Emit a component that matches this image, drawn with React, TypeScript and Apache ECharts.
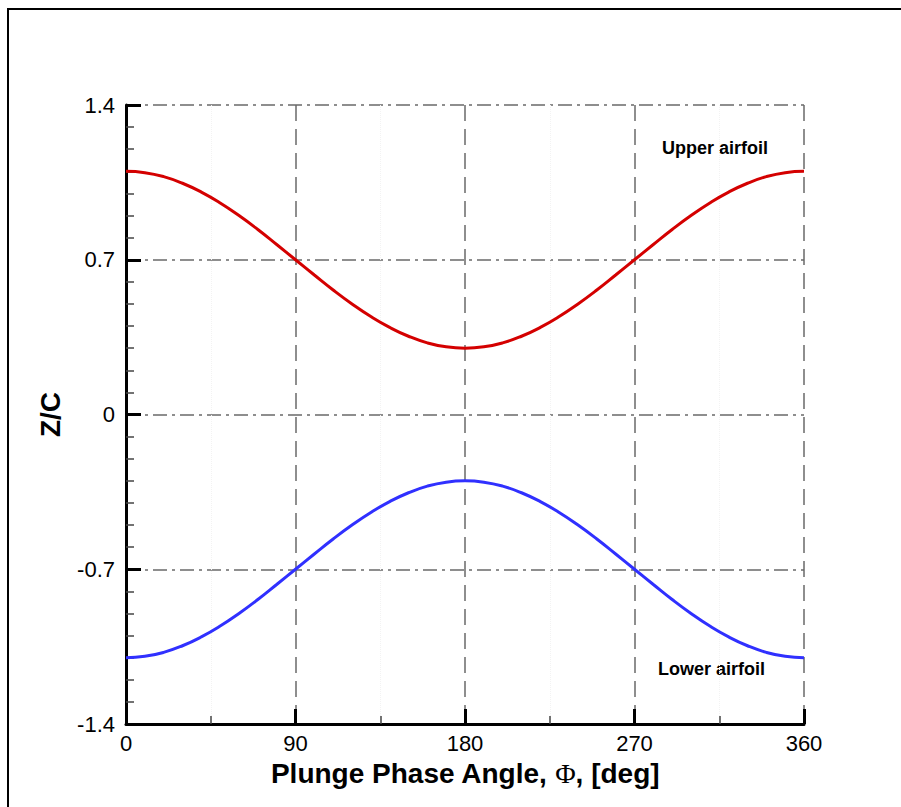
import React, { useEffect, useRef } from "react";
import * as echarts from "echarts";

// Plunge phase angle (deg)
const phase = [
  0, 10, 20, 30, 40, 50, 60, 70, 80, 90, 100, 110, 120, 130, 140, 150, 160, 170, 180,
  190, 200, 210, 220, 230, 240, 250, 260, 270, 280, 290, 300, 310, 320, 330, 340, 350, 360,
];

// Z/C of the upper airfoil
const upperZ = [
  1.1, 1.094, 1.076, 1.046, 1.006, 0.957, 0.9, 0.837, 0.769, 0.7, 0.631, 0.563, 0.5, 0.443,
  0.394, 0.354, 0.324, 0.306, 0.3, 0.306, 0.324, 0.354, 0.394, 0.443, 0.5, 0.563, 0.631,
  0.7, 0.769, 0.837, 0.9, 0.957, 1.006, 1.046, 1.076, 1.094, 1.1,
];

// Z/C of the lower airfoil
const lowerZ = [
  -1.1, -1.094, -1.076, -1.046, -1.006, -0.957, -0.9, -0.837, -0.769, -0.7, -0.631, -0.563,
  -0.5, -0.443, -0.394, -0.354, -0.324, -0.306, -0.3, -0.306, -0.324, -0.354, -0.394,
  -0.443, -0.5, -0.563, -0.631, -0.7, -0.769, -0.837, -0.9, -0.957, -1.006, -1.046, -1.076,
  -1.094, -1.1,
];

const xTicks = { min: 0, max: 360, interval: 90 };
const yTicks = { min: -1.4, max: 1.4, interval: 0.7 };

const seriesLabels = ["Upper airfoil", "Lower airfoil"];

export default function App() {
  const ref = useRef<HTMLDivElement>(null);

  useEffect(() => {
    if (!ref.current) return;
    const chart = echarts.init(ref.current, undefined, { renderer: "svg" });
    const font = "Liberation Sans, Arial, Helvetica, sans-serif";
    const gridColor = "#6a6a6a";

    chart.setOption({
      animation: false,
      backgroundColor: "#ffffff",
      textStyle: { fontFamily: font },
      grid: { left: 126, right: 97, top: 105, bottom: 83, containLabel: false },
      xAxis: {
        type: "value",
        min: xTicks.min,
        max: xTicks.max,
        interval: xTicks.interval,
        name: "Plunge Phase Angle, {phi|Φ}, [deg]",
        nameLocation: "middle",
        nameGap: 35,
        nameTextStyle: {
          fontFamily: font,
          fontSize: 28,
          fontWeight: "bold",
          color: "#000",
          rich: {
            phi: {
              fontFamily: "Liberation Serif, Times New Roman, serif",
              fontSize: 28,
              fontWeight: "normal",
              color: "#000",
            },
          },
        },
        axisLine: { show: true, onZero: false, lineStyle: { color: "#000", width: 3 } },
        axisTick: { show: true, inside: true, length: 15, lineStyle: { color: "#000", width: 3 } },
        minorTick: { show: true, splitNumber: 2, length: 8, lineStyle: { color: "#444", width: 1.5 } },
        minorSplitLine: { show: true, lineStyle: { color: "#f3f3f3", width: 1, type: "dotted" } },
        axisLabel: { fontSize: 22, color: "#000", margin: 8, fontFamily: font },
        splitLine: { show: true, lineStyle: { color: gridColor, width: 1.5, type: [16, 8] } },
      },
      yAxis: {
        type: "value",
        min: yTicks.min,
        max: yTicks.max,
        interval: yTicks.interval,
        name: "Z/C",
        nameLocation: "middle",
        nameGap: 62,
        nameTextStyle: { fontFamily: font, fontSize: 28, fontWeight: "bold", color: "#000" },
        axisLine: { show: true, onZero: false, lineStyle: { color: "#000", width: 3 } },
        axisTick: { show: true, inside: true, length: 15, lineStyle: { color: "#000", width: 3 } },
        minorTick: { show: true, splitNumber: 7, length: 8, lineStyle: { color: "#444", width: 1.5 } },
        axisLabel: {
          fontSize: 22,
          color: "#000",
          margin: 11,
          fontFamily: font,
          formatter: (v: number) => (Math.abs(v) < 1e-9 ? "0" : v.toFixed(1)),
        },
        splitLine: { show: true, lineStyle: { color: gridColor, width: 1.5, type: [14, 5, 3, 5] } },
      },
      series: [
        {
          name: seriesLabels[0],
          type: "line",
          data: phase.map((p, i) => [p, upperZ[i]]),
          showSymbol: false,
          smooth: 0.5,
          lineStyle: { color: "#d40000", width: 3 },
          z: 5,
        },
        {
          name: seriesLabels[1],
          type: "line",
          data: phase.map((p, i) => [p, lowerZ[i]]),
          showSymbol: false,
          smooth: 0.5,
          lineStyle: { color: "#3030ff", width: 3 },
          z: 5,
        },
      ],
      graphic: [
        {
          type: "rect",
          shape: { x: 8, y: 9, width: 1000, height: 1000 },
          style: { fill: "none", stroke: "#000", lineWidth: 2 },
          silent: true,
        },
        {
          type: "text",
          x: 662,
          y: 148,
          style: {
            text: seriesLabels[0],
            font: `bold 18px ${font}`,
            fill: "#000",
            textVerticalAlign: "middle",
          },
        },
        {
          type: "text",
          x: 658,
          y: 669,
          style: {
            text: seriesLabels[1],
            font: `bold 18px ${font}`,
            fill: "#000",
            textVerticalAlign: "middle",
          },
        },
      ],
    });

    return () => chart.dispose();
  }, []);

  return (
    <div
      ref={ref}
      style={{ position: "absolute", left: 0, top: 0, width: 901, height: 807 }}
    />
  );
}
